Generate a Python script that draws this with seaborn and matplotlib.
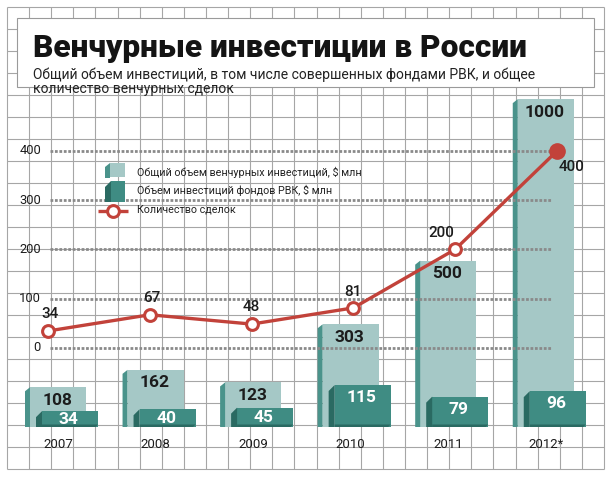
import numpy as np
import pandas as pd
import matplotlib
matplotlib.use("Agg")
import matplotlib.pyplot as plt
import matplotlib.transforms as mtransforms
from matplotlib.patches import Rectangle, Polygon
from matplotlib import font_manager
import seaborn as sns

# ---------------- data ----------------
years = ["2007", "2008", "2009", "2010", "2011", "2012*"]
total_invest = [108, 162, 123, 303, 500, 1000]   # $ mln
rvc_invest = [34, 40, 45, 115, 79, 96]           # $ mln
deals = [34, 67, 48, 81, 200, 400]               # number of deals
deal_ticks = [0, 100, 200, 300, 400]

title = "Венчурные инвестиции в России"
subtitle_lines = ["Общий объем инвестиций, в том числе совершенных фондами РВК, и общее",
                  "количество венчурных сделок"]
legend_labels = ["Общий объем венчурных инвестиций, $ млн",
                 "Объем инвестиций фондов РВК, $ млн",
                 "Количество сделок"]

# ---------------- fonts ----------------
avail = {f.name for f in font_manager.fontManager.ttflist}
def pick(*names):
    for n in names:
        if n in avail:
            return n
    return "DejaVu Sans"

F_NARROW = pick("Liberation Sans Narrow", "Roboto", "Liberation Sans")
F_NUM = pick("Roboto", "Liberation Sans", "DejaVu Sans")

sns.set_theme(style="white")
plt.rcParams['font.family'] = [F_NUM, 'DejaVu Sans']

# ---------------- style ----------------
LIGHT = '#a5c8c6'
STRIP = '#4a938b'
DARK = '#3f8c83'
DARK_SIDE = '#2a6a62'
RED = '#c2423a'
GRID = '#a6a6a6'
DOT = '#8a8a8a'
TXT = '#1c1c1c'

W, H = 614, 480
fig = plt.figure(figsize=(6.14, 4.8), dpi=100)
fig.patch.set_facecolor('white')

def px_axes(z):
    ax = fig.add_axes([0, 0, 1, 1], zorder=z)
    ax.set_xlim(0, W)
    ax.set_ylim(H, 0)
    ax.axis('off')
    ax.patch.set_alpha(0)
    return ax

# background graph-paper grid
GX0, GX1, GY0, GY1 = 7, 604, 7, 469
ax_bg = px_axes(0)
for i in range(28):
    x = GX0 + i * (GX1 - GX0) / 27
    ax_bg.plot([x, x], [GY0, GY1], color=GRID, lw=0.8, solid_capstyle='butt')
for j in range(22):
    y = GY0 + j * (GY1 - GY0) / 21
    ax_bg.plot([GX0, GX1], [y, y], color=GRID, lw=0.8, solid_capstyle='butt')
ax_bg.add_patch(Rectangle((17, 18), 577, 69, facecolor='white', edgecolor='#9a9a9a', lw=0.8, zorder=5))

# ---------------- chart axes ----------------
rect = [GX0 / W, 1 - GY1 / H, (GX1 - GX0) / W, (GY1 - GY0) / H]
PX_X = 97.55          # px per category
PX_Y = 0.323          # px per $ mln
PED = 15              # pedestal under the 3D bars ($ mln units)
X0 = -(58 - GX0) / PX_X
XL = (X0, X0 + (GX1 - GX0) / PX_X)
YB = -(GY1 - 422.15) / PX_Y
YL = (YB, YB + (GY1 - GY0) / PX_Y)
DARK_SHIFT = 12 / PX_X
BAR_W = 56 / PX_X

df = pd.DataFrame({"year": years, "total": total_invest, "rvc": rvc_invest,
                   "deals": deals, "idx": np.arange(len(years))})

def chart_axes(z):
    ax = fig.add_axes(rect, zorder=z)
    ax.patch.set_alpha(0)
    return ax

ax_bar = chart_axes(1)
ax_dark = chart_axes(2)
ax_line = chart_axes(3)

sns.barplot(data=df, x="year", y="total", order=years, ax=ax_bar, color=LIGHT,
            saturation=1, width=BAR_W, errorbar=None, linewidth=0)
sns.barplot(data=df, x="year", y="rvc", order=years, ax=ax_dark, color=DARK,
            saturation=1, width=BAR_W, errorbar=None, linewidth=0)

for ax, xl in ((ax_bar, XL), (ax_dark, (XL[0] - DARK_SHIFT, XL[1] - DARK_SHIFT))):
    ax.set_xlim(*xl)
    ax.set_ylim(*YL)
    ax.axis('off')

# 3D decoration for light bars + labels
for p, v in zip(ax_bar.patches, total_invest):
    p.set_y(-PED)
    p.set_height(p.get_height() + PED)
    x0 = p.get_x(); bot = p.get_y(); top = bot + p.get_height()
    dx = 5 / PX_X; dy = 4 / PX_Y
    ax_bar.add_patch(Polygon([(x0 - dx, bot), (x0 - dx, top - dy), (x0, top), (x0, bot)],
                             closed=True, facecolor=STRIP, edgecolor='none'))
    ax_bar.annotate(str(v), xy=(x0 + p.get_width() / 2, top), xytext=(-1, -13),
                    textcoords='offset pixels', ha='center', va='center',
                    fontsize=12.5, fontweight='bold', color=TXT)

# 3D decoration for dark bars + labels
for p, v in zip(ax_dark.patches, rvc_invest):
    p.set_y(-PED)
    p.set_height(p.get_height() + PED)
    x0 = p.get_x(); bot = p.get_y(); top = bot + p.get_height(); w = p.get_width()
    dx = 6 / PX_X; dy = 6 / PX_Y
    ax_dark.add_patch(Polygon([(x0 - dx, bot), (x0 - dx, top - dy), (x0, top), (x0, bot)],
                              closed=True, facecolor=DARK_SIDE, edgecolor='none'))
    bh = 2.5 / PX_Y
    ax_dark.add_patch(Polygon([(x0, bot), (x0, bot + bh), (x0 + w, bot + bh),
                               (x0 + w - 2.5 / PX_X, bot)],
                              closed=True, facecolor=DARK_SIDE, edgecolor='none'))
    hp = (v + PED) * PX_Y
    off = min(12.5, hp / 2)
    ax_dark.annotate(str(v), xy=(x0 + w / 2, top), xytext=(-1.5, -off),
                     textcoords='offset pixels', ha='center', va='center',
                     fontsize=12.5, fontweight='bold', color='white')

# year labels
for i, yr in enumerate(years):
    ax_bar.annotate(yr, xy=(i, 0), xytext=(0, -22), textcoords='offset pixels',
                    ha='center', va='center', fontsize=9.5, color=TXT)

# ---------------- line (number of deals) ----------------
LX0 = -(48 - GX0) / 101.8
ax_line.set_xlim(LX0, LX0 + (GX1 - GX0) / 101.8)
LY0 = -(GY1 - 347.7) / 0.4918
ax_line.set_ylim(LY0, LY0 + (GY1 - GY0) / 0.4918)

for t in deal_ticks:
    ax_line.axhline(t, xmin=(50 - GX0) / (GX1 - GX0), xmax=(552 - GX0) / (GX1 - GX0),
                    color=DOT, lw=2.0, ls=(0, (1.0, 0.6)), zorder=1)
tick_tr = mtransforms.blended_transform_factory(ax_line.transAxes, ax_line.transData)
for t in deal_ticks:
    ax_line.text((41 - GX0) / (GX1 - GX0), t, str(t), transform=tick_tr,
                 ha='right', va='center', fontsize=9.3, color=TXT)

sns.lineplot(data=df, x="idx", y="deals", ax=ax_line, color=RED, linewidth=2.4,
             marker='o', markersize=8.5, markerfacecolor='white',
             markeredgecolor=RED, markeredgewidth=2.2, zorder=4)
ax_line.plot(df["idx"].iloc[-1], df["deals"].iloc[-1], 'o', ms=11, color=RED, zorder=5)
ax_line.set_xlim(LX0, LX0 + (GX1 - GX0) / 101.8)
ax_line.set_ylim(LY0, LY0 + (GY1 - GY0) / 0.4918)
ax_line.axis('off')

label_offsets = [(2, 17), (2, 17), (0, 17), (0, 16), (-14, 16), (15, -16)]
for i, (v, off) in enumerate(zip(deals, label_offsets)):
    ax_line.annotate(str(v), xy=(i, v), xytext=off, textcoords='offset pixels',
                     ha='center', va='center', fontsize=11, fontweight='medium',
                     color=TXT, zorder=6)

# ---------------- title, subtitle, legend ----------------
ax_top = px_axes(10)
renderer = fig.canvas.get_renderer()

def fit(t, target):
    w = t.get_window_extent(renderer).width
    t.set_fontsize(t.get_fontsize() * target / w)
    return t.get_fontsize()

t_title = ax_top.text(33, 57, title, fontsize=25, fontweight='black', va='baseline',
                      ha='left', color='#141414', family=[F_NARROW, 'DejaVu Sans'], zorder=6)
fit(t_title, 494)

s1 = ax_top.text(33, 78.5, subtitle_lines[0], fontsize=10, va='baseline', ha='left',
                 color='#222222', family=[F_NARROW, 'DejaVu Sans'], zorder=6)
fs = fit(s1, 503)
ax_top.text(33, 93.5, subtitle_lines[1], fontsize=fs, va='baseline', ha='left',
            color='#222222', family=[F_NARROW, 'DejaVu Sans'], zorder=6)

# legend icons (decoration)
ax_top.add_patch(Rectangle((110, 163), 15, 14, facecolor=LIGHT, edgecolor='none'))
ax_top.add_patch(Polygon([(105, 178), (105, 167), (110, 163), (110, 178)], closed=True,
                         facecolor=STRIP, edgecolor='none'))
ax_top.add_patch(Rectangle((111, 181), 14, 21, facecolor=DARK, edgecolor='none'))
ax_top.add_patch(Polygon([(105, 202), (105, 187), (111, 181), (111, 202)], closed=True,
                         facecolor=DARK_SIDE, edgecolor='none'))
ax_top.plot([98, 128], [211, 211], color=RED, lw=2.4, solid_capstyle='butt')
ax_top.plot([113], [211], 'o', ms=8.5, mfc='white', mec=RED, mew=2.2)

leg_y = [172, 190, 210]
lt = [ax_top.text(137, y, lab, fontsize=8.5, va='center', ha='left', color='#222222',
                  family=[F_NARROW, 'DejaVu Sans']) for y, lab in zip(leg_y, legend_labels)]
lfs = fit(lt[0], 222)
for t in lt[1:]:
    t.set_fontsize(lfs)

fig.savefig("out.png", dpi=100, facecolor='white')
